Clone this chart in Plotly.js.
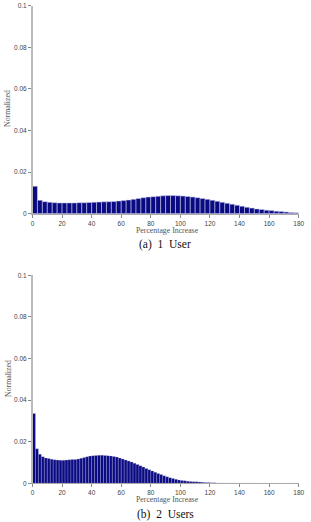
<!DOCTYPE html>
<html>
<head>
<meta charset="utf-8">
<script src="https://cdn.plot.ly/plotly-3.0.1.min.js"></script>
<style>html,body{margin:0;padding:0;background:#fff;}#chart{width:311px;height:522px;}</style>
</head>
<body>
<div id="chart"></div>
<script>
// Panel (a): 1 user, 54 bins over 0-180
const binWidthA = 180 / 54;
const valuesA = [
  0.0132, 0.0065, 0.0058, 0.0055, 0.0053, 0.0052, 0.0052, 0.0052, 0.0052, 0.0053,
  0.0053, 0.0054, 0.0055, 0.0056, 0.0057, 0.0058, 0.0059, 0.0061, 0.0063, 0.0066,
  0.0069, 0.0073, 0.0077, 0.0080, 0.0082, 0.0084, 0.0086, 0.0087, 0.0087, 0.0086,
  0.0085, 0.0083, 0.0080, 0.0077, 0.0073, 0.0069, 0.0065, 0.0060, 0.0055, 0.0050,
  0.0046, 0.0041, 0.0036, 0.0031, 0.0027, 0.0023, 0.0020, 0.0017, 0.0015, 0.0012,
  0.0010, 0.0008, 0.0006, 0.0004
];
// Panel (b): 2 users, 90 bins over 0-180
const binWidthB = 2;
const valuesB = [
  0.0335, 0.0166, 0.0140, 0.0128, 0.0122, 0.0119, 0.0116, 0.0113, 0.0112, 0.0111,
  0.0111, 0.0112, 0.0113, 0.0114, 0.0115, 0.0117, 0.0120, 0.0124, 0.0128, 0.0131,
  0.0133, 0.0134, 0.0135, 0.0135, 0.0134, 0.0133, 0.0131, 0.0129, 0.0126, 0.0122,
  0.0117, 0.0112, 0.0107, 0.0102, 0.0096, 0.0090, 0.0084, 0.0078, 0.0071, 0.0065,
  0.0059, 0.0053, 0.0047, 0.0042, 0.0036, 0.0031, 0.0027, 0.0023, 0.0019, 0.0016,
  0.0014, 0.0012, 0.0010, 0.0009, 0.0008, 0.0007, 0.0006, 0.0005, 0.0004, 0.0004,
  0.0003, 0.0003, 0.0002, 0.0002, 0.0002, 0.0001, 0.0001, 0.0001, 0.0001, 0.0001,
  0.00005, 0.00005, 0.00005, 0.00005, 0.00005, 0, 0, 0, 0, 0,
  0, 0, 0, 0, 0, 0, 0, 0, 0, 0
];
const xTicks = [0, 20, 40, 60, 80, 100, 120, 140, 160, 180];
const yTicks = [0, 0.02, 0.04, 0.06, 0.08, 0.1];
const yTickText = ['0', '0.02', '0.04', '0.06', '0.08', '0.1'];
const captions = ['(a)  1  User', '(b)  2  Users'];
const xTitle = 'Percentage Increase';
const yTitle = 'Normalized';

const centersA = valuesA.map((_, i) => i * binWidthA + binWidthA / 2);
const centersB = valuesB.map((_, i) => i * binWidthB + binWidthB / 2);

const barColor = '#0a0a82';
const traces = [
  {type: 'bar', x: centersA, y: valuesA, width: binWidthA, xaxis: 'x', yaxis: 'y',
   marker: {color: barColor, line: {color: 'rgba(210,210,240,0.9)', width: 0.6}}, hoverinfo: 'none'},
  {type: 'bar', x: centersB, y: valuesB, width: binWidthB, xaxis: 'x2', yaxis: 'y2',
   marker: {color: barColor, line: {color: 'rgba(210,210,240,0.7)', width: 0.35}}, hoverinfo: 'none'}
];

const tickFont = {family: 'Liberation Sans, Arial, sans-serif', size: 6.5, color: '#444'};
const xdom = [32.5 / 311, 298.7 / 311];
function xax(anchor) {
  return {domain: xdom, anchor: anchor, range: [0, 180], tickvals: xTicks, ticktext: xTicks.map(String),
    showgrid: false, zeroline: false, showline: true, linecolor: '#aaa', linewidth: 1,
    ticks: 'outside', ticklen: 3, tickcolor: '#888', tickfont: tickFont, fixedrange: true};
}
function yax(anchor, dom) {
  return {domain: dom, anchor: anchor, range: [0, 0.1], tickvals: yTicks, ticktext: yTickText,
    showgrid: false, zeroline: false, showline: true, linecolor: '#bbb', linewidth: 1.5,
    ticks: 'outside', ticklen: 3, tickcolor: '#888', tickfont: tickFont, fixedrange: true};
}
const H = 522;
const domA = [(H - 213.7) / H, (H - 5.7) / H];
const domB = [(H - 483.3) / H, (H - 275.3) / H];

const titleFont = {family: 'Liberation Serif, DejaVu Serif, serif', size: 7.8, color: '#555'};
const capFont = {family: 'Liberation Serif, DejaVu Serif, serif', size: 11.5, color: '#111'};
const annotations = [
  {text: xTitle, xref: 'paper', yref: 'paper', x: 167 / 311, y: (H - 230) / H, showarrow: false, font: titleFont, xanchor: 'center', yanchor: 'middle'},
  {text: xTitle, xref: 'paper', yref: 'paper', x: 167 / 311, y: (H - 499) / H, showarrow: false, font: titleFont, xanchor: 'center', yanchor: 'middle'},
  {text: yTitle, xref: 'paper', yref: 'paper', x: 8 / 311, y: (H - 109) / H, showarrow: false, font: titleFont, textangle: -90, xanchor: 'center', yanchor: 'middle'},
  {text: yTitle, xref: 'paper', yref: 'paper', x: 8 / 311, y: (H - 379) / H, showarrow: false, font: titleFont, textangle: -90, xanchor: 'center', yanchor: 'middle'},
  {text: captions[0], xref: 'paper', yref: 'paper', x: 165 / 311, y: (H - 245) / H, showarrow: false, font: capFont, xanchor: 'center', yanchor: 'middle'},
  {text: captions[1], xref: 'paper', yref: 'paper', x: 165 / 311, y: (H - 514) / H, showarrow: false, font: capFont, xanchor: 'center', yanchor: 'middle'}
];

const layout = {
  width: 311, height: 522,
  margin: {l: 0, r: 0, t: 0, b: 0},
  paper_bgcolor: '#fff', plot_bgcolor: '#fff',
  showlegend: false,
  bargap: 0,
  xaxis: xax('y'), yaxis: yax('x', domA),
  xaxis2: xax('y2'), yaxis2: yax('x2', domB),
  annotations: annotations
};
Plotly.newPlot('chart', traces, layout, {displayModeBar: false, staticPlot: true});
</script>
</body>
</html>
